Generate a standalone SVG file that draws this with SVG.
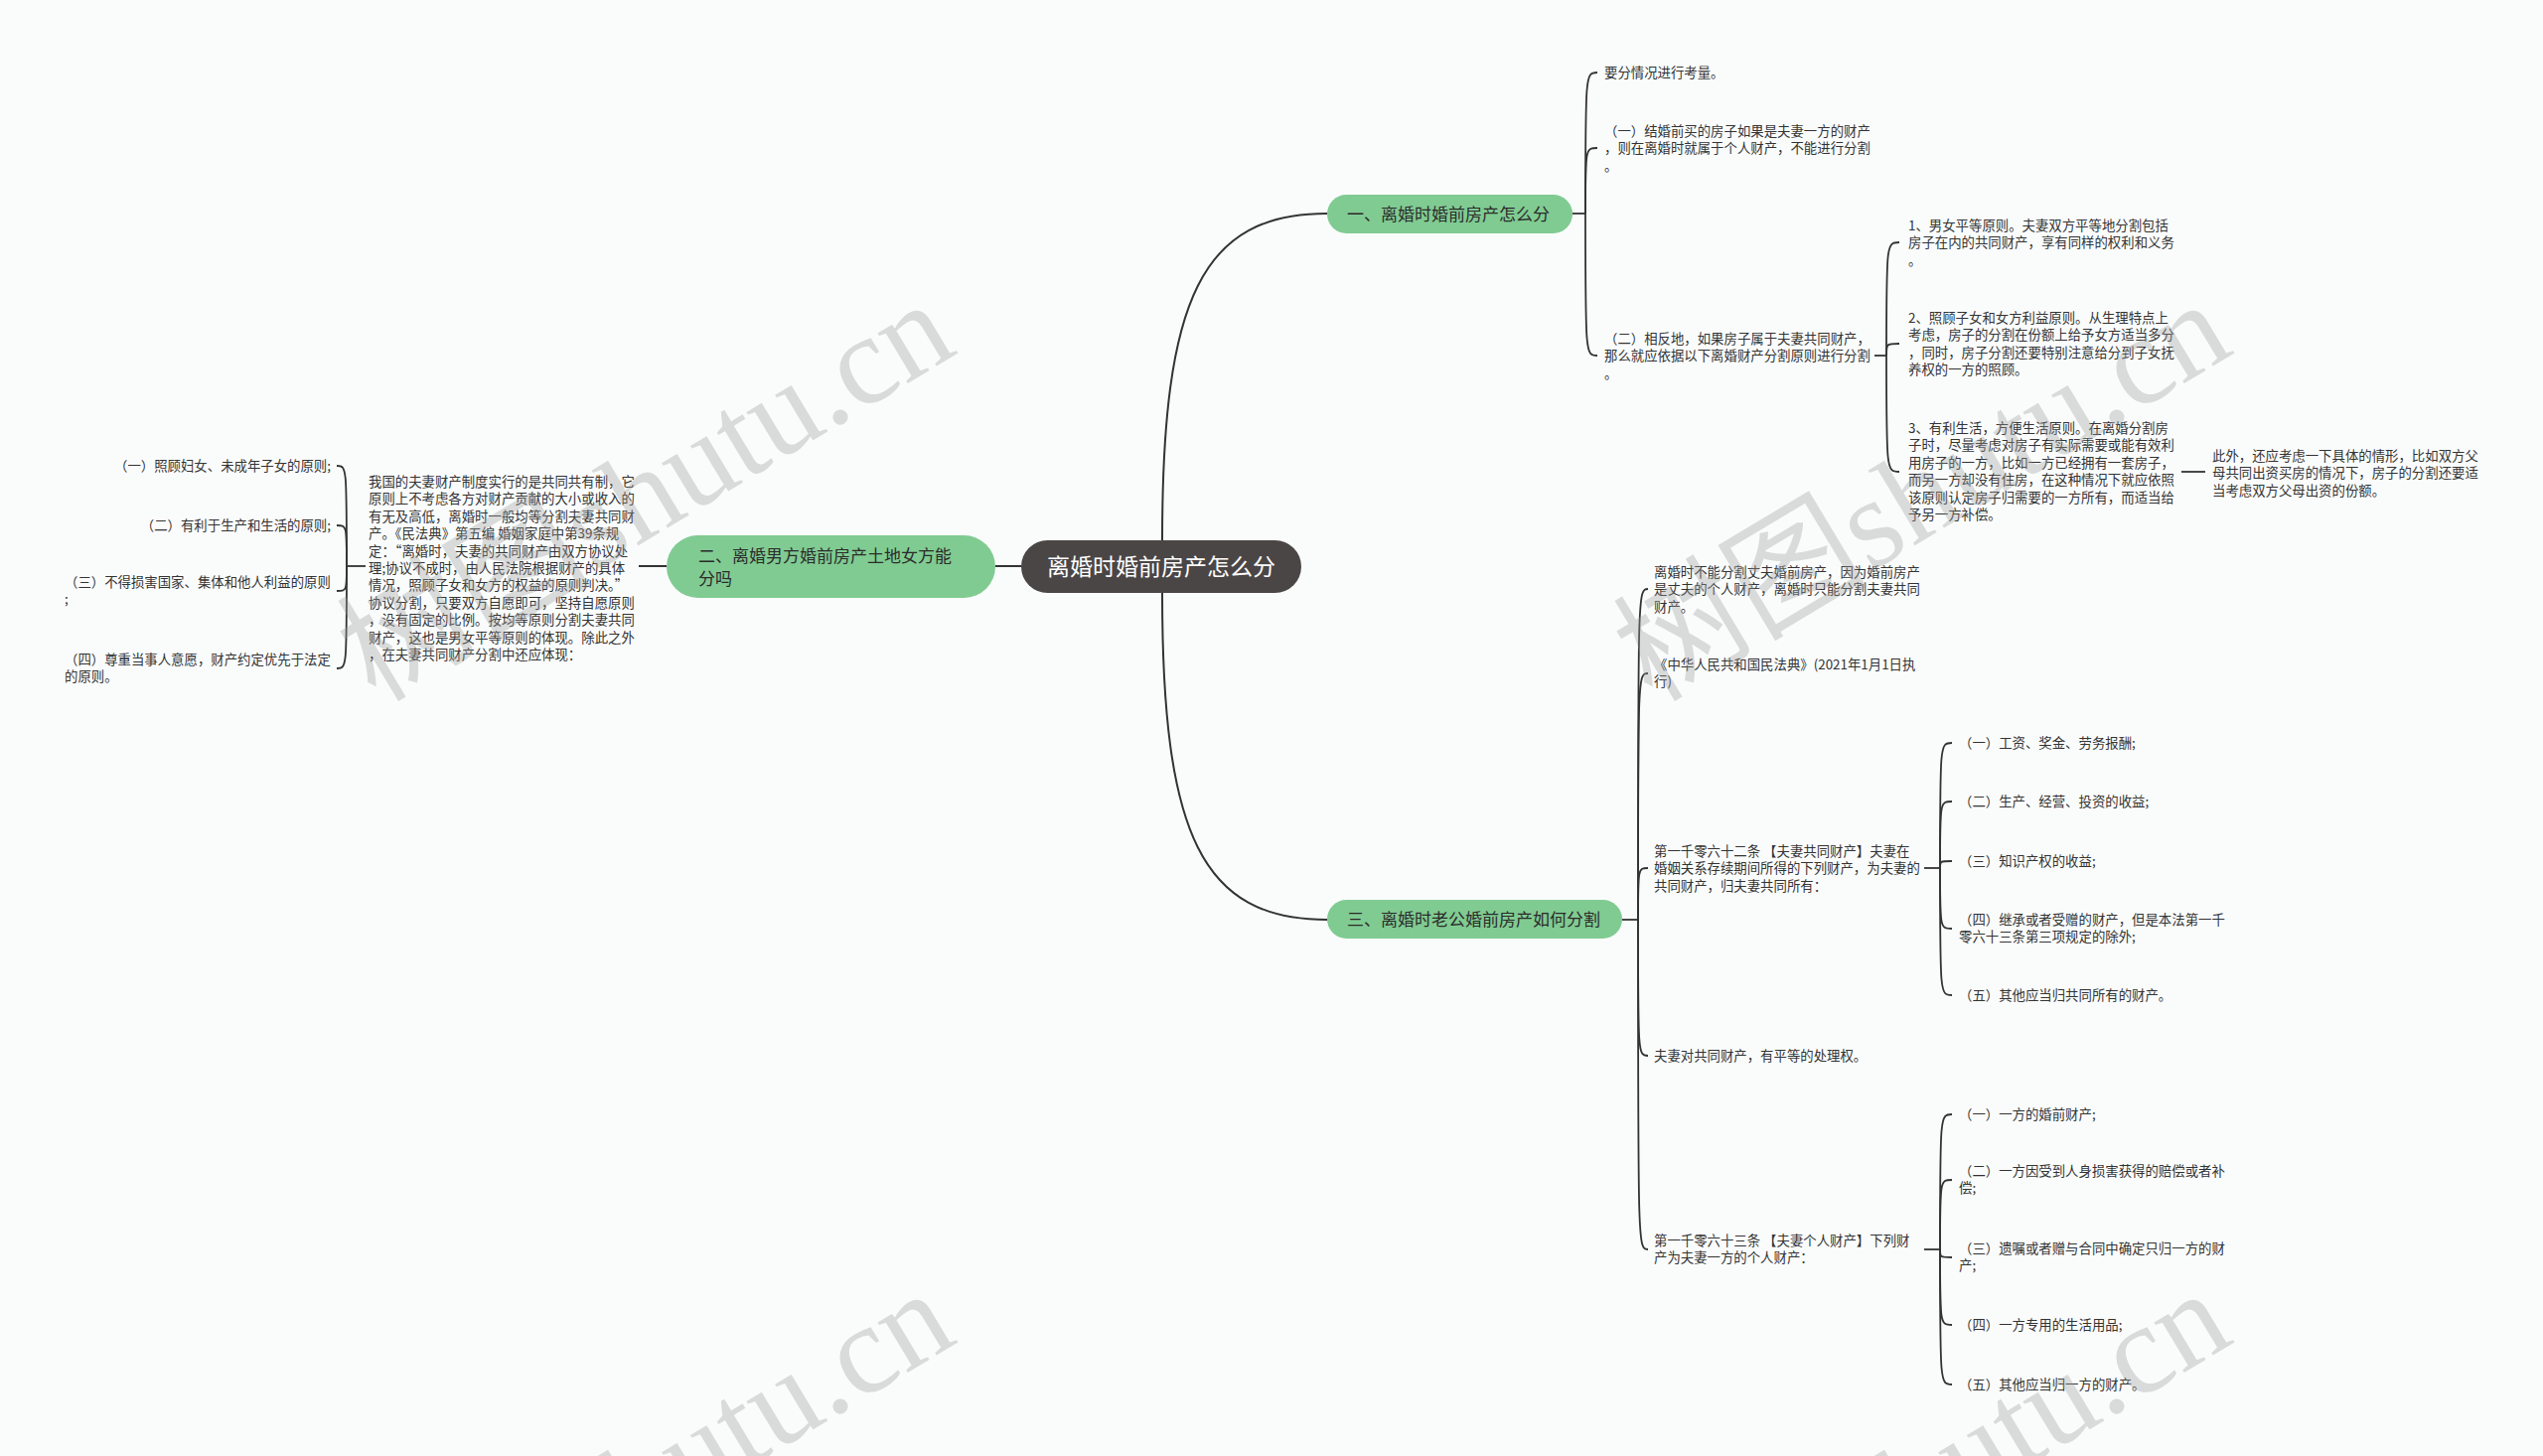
<svg xmlns="http://www.w3.org/2000/svg" width="2560" height="1466" viewBox="0 0 2560 1466">
<style>
text{font-family:"Noto Sans CJK SC","Microsoft YaHei",sans-serif}
.t{font-size:13.4px;fill:#333}
.b{font-size:17px;fill:#2b2b2b}
.r{font-size:23px;fill:#ffffff}
.c{fill:none;stroke:#333;stroke-width:2}
.m{fill:none;stroke:#333;stroke-width:1.8}
.wm{font-family:"Liberation Serif","Noto Sans CJK SC",serif;font-size:128px;fill:#9a9a9a;fill-opacity:0.35}
</style>
<rect x="0" y="0" width="2560" height="1466" fill="#fafcfc"/>
<g id="connectors">
<path class="c" d="M1170,544 C1170,300 1210,215 1336,215"/>
<path class="c" d="M1170,597 C1170,841 1210,926 1336,926"/>
<path class="c" d="M1028,570 L1002,570"/>
<path class="c" d="M671,570 L643,570"/>
<path class="m" d="M1583,215 L1596,215"/>
<path class="m" d="M1596,215 C1596,73 1596,73 1608,73"/>
<path class="m" d="M1596,215 C1596,149 1596,149 1608,149"/>
<path class="m" d="M1596,215 C1596,358 1596,358 1608,358"/>
<path class="m" d="M1887,358 L1899,358"/>
<path class="m" d="M1899,358 C1899,244 1899,244 1912,244"/>
<path class="m" d="M1899,358 C1899,346 1899,346 1912,346"/>
<path class="m" d="M1899,358 C1899,475 1899,475 1912,475"/>
<path class="m" d="M2196,475 L2220,475"/>
<path class="m" d="M1633,926 L1649,926"/>
<path class="m" d="M1649,926 C1649,593 1649,593 1659,593"/>
<path class="m" d="M1649,926 C1649,678 1649,678 1659,678"/>
<path class="m" d="M1649,926 C1649,874 1649,874 1659,874"/>
<path class="m" d="M1649,926 C1649,1063 1649,1063 1659,1063"/>
<path class="m" d="M1649,926 C1649,1258 1649,1258 1659,1258"/>
<path class="m" d="M1937,874 L1953,874"/>
<path class="m" d="M1953,874 C1953,748 1953,748 1965,748"/>
<path class="m" d="M1953,874 C1953,807 1953,807 1965,807"/>
<path class="m" d="M1953,874 C1953,867 1953,867 1965,867"/>
<path class="m" d="M1953,874 C1953,935 1953,935 1965,935"/>
<path class="m" d="M1953,874 C1953,1002 1953,1002 1965,1002"/>
<path class="m" d="M1937,1258 L1953,1258"/>
<path class="m" d="M1953,1258 C1953,1122 1953,1122 1965,1122"/>
<path class="m" d="M1953,1258 C1953,1188 1953,1188 1965,1188"/>
<path class="m" d="M1953,1258 C1953,1266 1953,1266 1965,1266"/>
<path class="m" d="M1953,1258 C1953,1334 1953,1334 1965,1334"/>
<path class="m" d="M1953,1258 C1953,1394 1953,1394 1965,1394"/>
<path class="m" d="M368,570 L349,570"/>
<path class="m" d="M349,570 C349,469 349,469 339,469"/>
<path class="m" d="M349,570 C349,529 349,529 339,529"/>
<path class="m" d="M349,570 C349,595 349,595 339,595"/>
<path class="m" d="M349,570 C349,673 349,673 339,673"/>
</g>
<g id="root">
<rect x="1028" y="544" width="282" height="53" rx="26.5" fill="#4b4646"/>
<text class="r" x="1169" y="579" text-anchor="middle">离婚时婚前房产怎么分</text>
</g>
<g id="branch1">
<rect x="1336" y="196" width="247" height="39" rx="19.5" fill="#80cb92"/>
<text class="b" x="1356" y="222">一、离婚时婚前房产怎么分</text>
</g>
<g id="branch2">
<rect x="671" y="539" width="331" height="63" rx="31.5" fill="#80cb92"/>
<text class="b"><tspan x="703" y="566">二、离婚男方婚前房产土地女方能</tspan><tspan x="703" y="588.5">分吗</tspan></text>
</g>
<g id="branch3">
<rect x="1336" y="906" width="297" height="39" rx="19.5" fill="#80cb92"/>
<text class="b" x="1356" y="932">三、离婚时老公婚前房产如何分割</text>
</g>
<g id="n-1a"><text class="t" x="1615" y="78">要分情况进行考量。</text></g>
<g id="n-1b"><text class="t"><tspan x="1615" y="137">（一）结婚前买的房子如果是夫妻一方的财产</tspan><tspan x="1615" y="154.4">，则在离婚时就属于个人财产，不能进行分割</tspan><tspan x="1615" y="171.8">。</tspan></text></g>
<g id="n-1c"><text class="t"><tspan x="1615" y="346">（二）相反地，如果房子属于夫妻共同财产，</tspan><tspan x="1615" y="363.4">那么就应依据以下离婚财产分割原则进行分割</tspan><tspan x="1615" y="380.8">。</tspan></text></g>
<g id="n-s1"><text class="t"><tspan x="1921" y="232">1、男女平等原则。夫妻双方平等地分割包括</tspan><tspan x="1921" y="249.4">房子在内的共同财产，享有同样的权利和义务</tspan><tspan x="1921" y="266.8">。</tspan></text></g>
<g id="n-s2"><text class="t"><tspan x="1921" y="325">2、照顾子女和女方利益原则。从生理特点上</tspan><tspan x="1921" y="342.4">考虑，房子的分割在份额上给予女方适当多分</tspan><tspan x="1921" y="359.8">，同时，房子分割还要特别注意给分到子女抚</tspan><tspan x="1921" y="377.2">养权的一方的照顾。</tspan></text></g>
<g id="n-s3"><text class="t"><tspan x="1921" y="436">3、有利生活，方便生活原则。在离婚分割房</tspan><tspan x="1921" y="453.4">子时，尽量考虑对房子有实际需要或能有效利</tspan><tspan x="1921" y="470.8">用房子的一方，比如一方已经拥有一套房子，</tspan><tspan x="1921" y="488.2">而另一方却没有住房，在这种情况下就应依照</tspan><tspan x="1921" y="505.6">该原则认定房子归需要的一方所有，而适当给</tspan><tspan x="1921" y="523">予另一方补偿。</tspan></text></g>
<g id="n-s4"><text class="t"><tspan x="2227" y="464">此外，还应考虑一下具体的情形，比如双方父</tspan><tspan x="2227" y="481.4">母共同出资买房的情况下，房子的分割还要适</tspan><tspan x="2227" y="498.8">当考虑双方父母出资的份额。</tspan></text></g>
<g id="n-u1"><text class="t"><tspan x="1665" y="581">离婚时不能分割丈夫婚前房产，因为婚前房产</tspan><tspan x="1665" y="598.4">是丈夫的个人财产，离婚时只能分割夫妻共同</tspan><tspan x="1665" y="615.8">财产。</tspan></text></g>
<g id="n-u2"><text class="t"><tspan x="1665" y="674">《中华人民共和国民法典》(2021年1月1日执</tspan><tspan x="1665" y="691.4">行)</tspan></text></g>
<g id="n-u3"><text class="t"><tspan x="1665" y="862">第一千零六十二条 【夫妻共同财产】夫妻在</tspan><tspan x="1665" y="879.4">婚姻关系存续期间所得的下列财产，为夫妻的</tspan><tspan x="1665" y="896.8">共同财产，归夫妻共同所有：</tspan></text></g>
<g id="n-v1"><text class="t" x="1972" y="753">（一）工资、奖金、劳务报酬;</text></g>
<g id="n-v2"><text class="t" x="1972" y="812">（二）生产、经营、投资的收益;</text></g>
<g id="n-v3"><text class="t" x="1972" y="872">（三）知识产权的收益;</text></g>
<g id="n-v4"><text class="t"><tspan x="1972" y="931">（四）继承或者受赠的财产，但是本法第一千</tspan><tspan x="1972" y="948.4">零六十三条第三项规定的除外;</tspan></text></g>
<g id="n-v5"><text class="t" x="1972" y="1007">（五）其他应当归共同所有的财产。</text></g>
<g id="n-u4"><text class="t" x="1665" y="1068">夫妻对共同财产，有平等的处理权。</text></g>
<g id="n-u5"><text class="t"><tspan x="1665" y="1254">第一千零六十三条 【夫妻个人财产】下列财</tspan><tspan x="1665" y="1271.4">产为夫妻一方的个人财产：</tspan></text></g>
<g id="n-w1"><text class="t" x="1972" y="1127">（一）一方的婚前财产;</text></g>
<g id="n-w2"><text class="t"><tspan x="1972" y="1184">（二）一方因受到人身损害获得的赔偿或者补</tspan><tspan x="1972" y="1201.4">偿;</tspan></text></g>
<g id="n-w3"><text class="t"><tspan x="1972" y="1262">（三）遗嘱或者赠与合同中确定只归一方的财</tspan><tspan x="1972" y="1279.4">产;</tspan></text></g>
<g id="n-w4"><text class="t" x="1972" y="1339">（四）一方专用的生活用品;</text></g>
<g id="n-w5"><text class="t" x="1972" y="1399">（五）其他应当归一方的财产。</text></g>
<g id="n-p"><text class="t"><tspan x="371" y="490">我国的夫妻财产制度实行的是共同共有制，它</tspan><tspan x="371" y="507.4">原则上不考虑各方对财产贡献的大小或收入的</tspan><tspan x="371" y="524.8">有无及高低，离婚时一般均等分割夫妻共同财</tspan><tspan x="371" y="542.2">产。《民法典》第五编 婚姻家庭中第39条规</tspan><tspan x="371" y="559.6">定：“离婚时，夫妻的共同财产由双方协议处</tspan><tspan x="371" y="577">理;协议不成时，由人民法院根据财产的具体</tspan><tspan x="371" y="594.4">情况，照顾子女和女方的权益的原则判决。”</tspan><tspan x="371" y="611.8">协议分割，只要双方自愿即可，坚持自愿原则</tspan><tspan x="371" y="629.2">，没有固定的比例。按均等原则分割夫妻共同</tspan><tspan x="371" y="646.6">财产，这也是男女平等原则的体现。除此之外</tspan><tspan x="371" y="664">，在夫妻共同财产分割中还应体现：</tspan></text></g>
<g id="n-l1"><text class="t" x="333" y="474" text-anchor="end">（一）照顾妇女、未成年子女的原则;</text></g>
<g id="n-l2"><text class="t" x="333" y="534" text-anchor="end">（二）有利于生产和生活的原则;</text></g>
<g id="n-l3"><text class="t"><tspan x="65" y="591">（三）不得损害国家、集体和他人利益的原则</tspan><tspan x="65" y="608.4">;</tspan></text></g>
<g id="n-l4"><text class="t"><tspan x="65" y="669">（四）尊重当事人意愿，财产约定优先于法定</tspan><tspan x="65" y="686.4">的原则。</tspan></text></g>
<g id="watermarks">
<text class="wm" transform="translate(378,708) rotate(-31)">树图shutu.cn</text>
<text class="wm" transform="translate(1663,708) rotate(-31)">树图shutu.cn</text>
<text class="wm" transform="translate(378,1704) rotate(-31)">树图shutu.cn</text>
<text class="wm" transform="translate(1663,1704) rotate(-31)">树图shutu.cn</text>
</g>
</svg>
